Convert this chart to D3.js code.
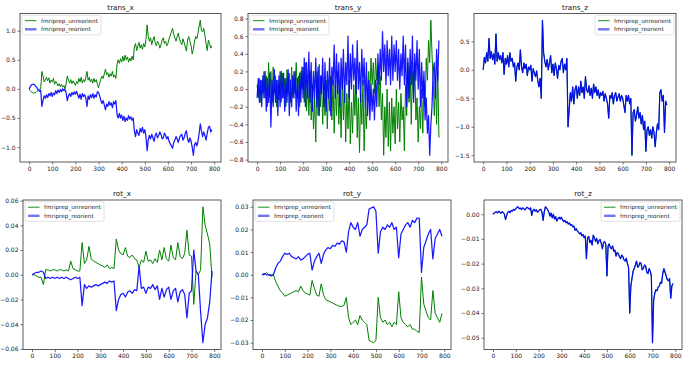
<!DOCTYPE html>
<html>
<head>
<meta charset="utf-8">
<script src="https://cdn.jsdelivr.net/npm/d3@7"></script>
<style>
  body { margin: 0; background: #fff; }
  svg { display: block; font-family: "DejaVu Sans", sans-serif; }
</style>
</head>
<body>
<div id="chart"></div>
<script>
"use strict";
// frame index: noisy series read every 5 frames, smoother ones every 10
const frames5 = d3.range(0, 795, 5);
const frames10 = d3.range(0, 800, 10);
const xTicks = [0, 100, 200, 300, 400, 500, 600, 700, 800];
const seriesNames = ["fmriprep_unreorient", "fmriprep_reorient"];

const trans_x_unreorient = [
  0, -0.03, -0.05, -0.07, -0.07, -0.07, -0.06, -0.04, -0.02, 0,
  0, 0.3, 0.22, 0.12, 0.15, 0.2, 0.14, 0.19, 0.1, 0.15,
  0.12, 0.18, 0.08, 0.13, 0.1, 0.05, 0.09, 0.04, 0.08, 0.03,
  0.06, 0, 0.1, 0.22, 0.15, 0.1, 0.16, 0.09, 0.14, 0.1,
  0.06, 0.13, 0.09, 0.18, 0.12, 0.2, 0.1, 0.16, 0.12, 0.2,
  0.3, 0.15, 0.2, 0.12, 0.17, 0.1, 0.18, 0.12, 0.16, 0.08,
  0.02, 0.1, 0.17, 0.22, 0.18, 0.26, 0.34, 0.24, 0.28, 0.2,
  0.26, 0.22, 0.3, 0.2, 0.24, 0.18, 0.42, 0.5, 0.44, 0.52,
  0.46, 0.56, 0.48, 0.58, 0.5, 0.55, 0.46, 0.53, 0.48, 0.56,
  0.5, 0.72, 0.78, 0.66, 0.74, 0.8, 0.7, 0.76, 0.68, 0.78,
  0.72, 0.85, 1.1, 0.9, 0.82, 0.88, 0.76, 0.84, 0.9, 0.8,
  0.74, 0.82, 0.78, 0.7, 0.76, 0.84, 0.88, 0.78, 0.82, 0.74,
  0.78, 0.86, 0.92, 0.98, 1.04, 0.94, 0.88, 0.82, 0.9, 0.96,
  0.86, 0.8, 0.76, 0.86, 0.8, 0.72, 0.65, 0.84, 0.9, 0.82,
  0.75, 0.6, 0.68, 0.82, 0.9, 0.86, 0.96, 1.08, 1.18, 1.0,
  0.98, 1.04, 0.92, 0.78, 0.66, 0.84, 0.78, 0.7, 0.74];
const trans_x_reorient = [
  0, 0.04, 0.07, 0.08, 0.08, 0.06, 0.04, 0.01, -0.02, -0.04,
  -0.02, -0.3, -0.2, -0.12, -0.16, -0.1, -0.15, -0.08, -0.12, -0.06,
  -0.13, -0.07, -0.1, -0.03, -0.08, -0.02, -0.06, -0.01, -0.05, 0,
  -0.03, -0.01, -0.07, -0.2, -0.12, -0.08, -0.13, -0.06, -0.1, -0.05,
  -0.09, -0.04, -0.1, -0.16, -0.09, -0.18, -0.08, -0.13, -0.1, -0.16,
  -0.3, -0.12, -0.18, -0.1, -0.15, -0.08, -0.16, -0.1, -0.14, -0.05,
  -0.06, -0.12, -0.2, -0.25, -0.2, -0.28, -0.36, -0.26, -0.3, -0.22,
  -0.28, -0.24, -0.32, -0.22, -0.26, -0.2, -0.44, -0.5, -0.42, -0.5,
  -0.45, -0.54, -0.47, -0.56, -0.5, -0.54, -0.46, -0.52, -0.48, -0.54,
  -0.5, -0.72, -0.82, -0.7, -0.76, -0.8, -0.68, -0.74, -0.66, -0.76,
  -0.7, -0.82, -1.06, -0.88, -0.8, -0.86, -0.78, -0.84, -0.9, -0.8,
  -0.76, -0.84, -0.8, -0.74, -0.78, -0.86, -0.84, -0.76, -0.8, -0.86,
  -0.82, -0.9, -0.94, -0.98, -1.02, -0.92, -0.88, -0.82, -0.86, -0.92,
  -0.84, -0.8, -0.78, -0.88, -0.84, -0.76, -0.72, -0.86, -0.92, -0.84,
  -0.9, -1.0, -1.14, -0.96, -0.92, -0.98, -0.9, -0.76, -0.6, -0.72,
  -0.82, -0.74, -0.8, -0.88, -0.76, -0.66, -0.64, -0.74, -0.7];

const trans_y_unreorient = [
  0.05, -0.1, 0.12, -0.15, 0.1, -0.05, 0.2, -0.1, 0.15, -0.2,
  0.3, -0.1, 0.2, -0.15, 0.25, -0.05, 0.15, -0.2, 0.1, -0.12,
  0.2, -0.15, 0.18, -0.1, 0.12, -0.2, 0.22, -0.05, 0.18, -0.15,
  0.25, -0.1, 0.2, -0.05, 0.3, -0.1, 0.15, -0.2, 0.2, 0,
  0.25, -0.15, 0.3, -0.25, 0.1, -0.3, 0.2, -0.35, 0.05, -0.45,
  -0.1, -0.6, 0.2, -0.3, 0.28, -0.2, 0.15, -0.4, 0.05, -0.3,
  0.1, -0.45, 0, -0.25, 0.15, -0.35, 0.1, -0.5, 0.05, -0.3,
  0.2, -0.4, 0, -0.55, 0.1, -0.35, 0.05, -0.6, -0.05, -0.45,
  0.1, -0.62, -0.15, -0.5, 0.05, -0.3, 0.15, -0.55, -0.1, -0.72,
  -0.05, -0.4, 0.1, -0.7, -0.2, -0.45, 0, 0.2, -0.1, 0.35,
  0.05, 0.3, -0.05, 0.35, 0.1, 0.25, -0.2, 0.15, -0.35, -0.05,
  -0.75, -0.2, -0.55, 0, -0.65, -0.15, -0.7, -0.1, -0.5, -0.2,
  -0.62, 0, -0.45, -0.15, -0.6, -0.05, -0.35, -0.2, -0.7, 0.05,
  -0.3, 0.3, -0.15, 0.25, -0.4, 0.2, -0.1, 0.3, -0.35, -0.1,
  -0.6, -0.2, -0.45, 0, -0.5, 0.1, -0.2, 0.35, 0.1, 0.55,
  0.3, 0.78, 0.4, 0.1, -0.3, 0.15, -0.4, 0.2, -0.55];
const trans_y_reorient = [
  -0.1, 0.12, -0.15, 0.1, -0.2, 0.15, -0.1, 0.2, -0.25, 0.12,
  -0.15, 0.18, -0.43, 0.1, -0.2, 0.22, -0.15, 0.1, -0.3, 0.15,
  -0.2, 0.2, -0.1, 0.18, -0.25, 0.12, -0.15, 0.22, -0.3, 0.1,
  -0.2, 0.15, -0.1, 0.2, -0.25, 0.12, -0.3, 0.18, -0.15, 0.25,
  -0.1, 0.35, -0.2, 0.3, -0.1, 0.42, -0.15, 0.3, -0.25, 0.2,
  -0.1, 0.35, -0.2, 0.25, -0.3, 0.15, -0.05, 0.35, -0.2, 0.3,
  -0.25, 0.2, -0.1, 0.35, -0.3, 0.25, 0.05, 0.5, -0.1, 0.4,
  -0.05, 0.3, -0.2, 0.35, 0, 0.45, -0.15, 0.3, 0.05, 0.6,
  -0.1, 0.4, 0, 0.5, 0.1, 0.35, -0.05, 0.55, 0, 0.3,
  -0.15, 0.45, 0.05, 0.35, -0.2, 0.3, -0.3, 0.1, -0.35, 0.05,
  -0.25, 0, -0.35, 0.1, -0.2, 0.4, 0.05, 0.45, 0.1, 0.65,
  0.2, 0.5, 0.05, 0.55, 0.15, 0.45, 0.05, 0.6, 0.1, 0.5,
  0.2, 0.55, 0.1, 0.45, 0, 0.4, 0.15, 0.6, 0.05, 0.5,
  -0.2, 0.35, -0.1, 0.45, 0.05, 0.6, -0.15, 0.4, 0.1, 0.55,
  0, 0.45, -0.2, 0.3, -0.1, 0.2, -0.35, -0.1, -0.5, -0.3,
  -0.75, -0.4, -0.2, 0.2, 0.3, -0.1, 0.45, 0.1, 0.55];

// both runs give the same trans_z and rot_z
const trans_z_both = [
  0, 0.22, 0.12, 0.3, 0.15, 0.55, 0.2, 0.32, 0.18, 0.28,
  0.1, 0.63, 0.15, 0.3, 0.18, 0.25, 0.12, 0.3, -0.08, 0.2,
  0.1, 0.25, 0.05, 0.3, 0.15, 0.2, 0.05, 0.12, -0.2, 0.05,
  0.12, 0, 0.35, 0.05, -0.05, 0.12, 0.02, 0.1, -0.1, 0.05,
  0, 0.08, -0.2, 0.02, -0.05, -0.12, -0.02, -0.2, -0.3, -0.15,
  -0.5, 0.87, 0.3, 0.15, 0.05, 0.18, 0, 0.12, 0.25, -0.05,
  0.1, -0.1, 0.12, 0.02, -0.15, 0.08, 0, 0.15, 0.2, -0.05,
  0.1, 0, 0.2, -1.0, -0.7, -0.4, -0.55, -0.3, -0.6, -0.35,
  -0.28, -0.5, -0.3, -0.45, -0.2, -0.4, -0.3, -0.5, -0.12, -0.35,
  -0.4, -0.28, -0.45, -0.32, -0.5, -0.25, -0.4, -0.3, -0.45, -0.35,
  -0.5, -0.4, -0.45, -0.38, -0.55, -0.42, -0.5, -0.6, -0.85, -0.45,
  -0.5, -0.4, -0.6, -0.45, -0.4, -0.55, -0.48, -0.42, -0.55, -0.45,
  -0.5, -0.62, -0.75, -0.45, -0.55, -0.45, -0.6, -0.5, -1.5, -0.75,
  -0.7, -0.9, -0.8, -0.65, -0.85, -0.75, -0.95, -0.8, -1.05, -0.9,
  -1.43, -1.05, -1.0, -1.15, -1.05, -1.2, -1.0, -1.1, -1.35, -1.1,
  -0.95, -1.05, -0.4, -0.35, -0.55, -0.45, -1.1, -0.55, -0.62];

const rot_x_unreorient = [0, 0, -0.001, -0.002, -0.002, -0.008, 0.004, 0.004, 0.003, 0.004, 0.004, 0.003, 0.004, 0.004,
  0.003, 0.004, 0.003, 0.011, 0.005, 0.004, 0.003, 0.003, 0.026, 0.009, 0.012, 0.023, 0.013, 0.011, 0.01, 0.009, 0.008,
  0.007, 0.006, 0.008, 0.005, 0.006, 0.005, 0.029, 0.02, 0.017, 0.016, 0.022, 0.015, 0.014, 0.016, 0.013, 0.012, 0.006,
  0.012, 0.01, 0.019, 0.011, 0.012, 0.009, 0.013, 0.01, 0.02, 0.012, 0.022, 0.013, 0.011, 0.024, 0.014, 0.012, 0.026,
  0.015, 0.013, 0.017, 0.036, 0.016, 0.015, -0.024, 0.003, 0, 0.004, 0.055, 0.04, 0.033, 0.025, -0.002];
const rot_x_reorient = [0, 0.001, 0.002, 0.002, 0.003, 0.002, -0.003, -0.002, -0.003, -0.002, -0.003, -0.002, -0.003,
  -0.002, -0.003, -0.002, -0.003, -0.004, -0.003, -0.002, -0.003, -0.002, -0.025, -0.008, -0.011, -0.009, -0.01, -0.009,
  -0.008, -0.009, -0.008, -0.007, -0.006, -0.007, -0.005, -0.006, -0.005, -0.029, -0.02, -0.016, -0.015, -0.018, -0.014,
  -0.013, -0.015, -0.012, -0.013, 0.007, -0.011, -0.01, -0.015, -0.01, -0.011, -0.008, -0.012, -0.009, -0.02, -0.011,
  -0.018, -0.012, -0.01, -0.02, -0.013, -0.011, -0.022, -0.014, -0.012, -0.016, -0.035, -0.015, -0.013, 0.02, 0.003, 0,
  -0.03, -0.055, -0.04, -0.035, -0.022, 0.003];

const rot_y_unreorient = [0, 0, 0.001, 0, 0, 0, -0.003, -0.005, -0.007, -0.008, -0.0095, -0.009, -0.0085, -0.008, -0.0075,
  -0.007, -0.0075, -0.005, -0.007, -0.008, -0.0085, -0.009, -0.0025, -0.006, -0.009, -0.0095, -0.004, -0.009, -0.011,
  -0.0115, -0.012, -0.0125, -0.013, -0.0135, -0.014, -0.014, -0.0135, -0.01, -0.019, -0.022, -0.021, -0.02, -0.022,
  -0.018, -0.02, -0.021, -0.022, -0.029, -0.0295, -0.03, -0.029, -0.01, -0.019, -0.021, -0.02, -0.022, -0.021, -0.023,
  -0.021, -0.022, -0.0075, -0.019, -0.021, -0.022, -0.023, -0.022, -0.024, -0.024, -0.025, -0.0255, -0.001, -0.013,
  -0.016, -0.019, -0.02, -0.007, -0.017, -0.019, -0.021, -0.017];
const rot_y_reorient = [0, 0.0005, 0, 0, -0.0005, 0, 0.003, 0.005, 0.006, 0.008, 0.0095, 0.009, 0.0095, 0.008, 0.0075,
  0.007, 0.008, 0.0065, 0.007, 0.008, 0.009, 0.0095, 0.002, 0.006, 0.008, 0.0095, 0.005, 0.009, 0.011, 0.012, 0.0115,
  0.013, 0.0125, 0.014, 0.0135, 0.015, 0.0145, 0.01, 0.019, 0.023, 0.021, 0.02, 0.023, 0.017, 0.02, 0.021, 0.022,
  0.029, 0.0295, 0.03, 0.028, 0.0095, 0.019, 0.021, 0.02, 0.022, 0.021, 0.023, 0.02, 0.021, 0.0075, 0.018, 0.02, 0.022,
  0.023, 0.021, 0.024, 0.023, 0.025, 0.025, 0.001, 0.012, 0.015, 0.018, 0.02, 0.007, 0.016, 0.018, 0.02, 0.017];

const rot_z_both = [
  0, 0.0005, 0.0008, 0.001, 0.0005, 0.0012, 0.0008, 0.0004, 0.001, 0.0006,
  0, -0.0022, -0.0005, 0.0008, 0.0012, 0.0006, 0.0015, 0.0012, 0.002, 0.0016,
  0.0022, 0.0028, 0.003, 0.0022, 0.0025, 0.0018, 0.0026, 0.0022, 0.0018, 0.0024,
  0.0028, 0.0024, 0.002, 0.0026, -0.0005, 0.0015, 0.002, 0.0012, 0.0018, 0.0008,
  0.0012, 0.0018, 0.002, 0.0008, -0.0025, 0.001, 0.003, 0.0025, 0.0018, 0.0008,
  -0.0008, 0.0005, -0.0015, 0, -0.002, -0.001, -0.0028, -0.0018, -0.0012, -0.002,
  -0.0012, -0.0022, -0.003, -0.0025, -0.0035, -0.003, -0.004, -0.0035, -0.0045, -0.0042,
  -0.005, -0.0048, -0.0065, -0.0058, -0.0068, -0.0072, -0.008, -0.0075, -0.0088, -0.0082,
  -0.0095, -0.0088, -0.018, -0.0095, -0.009, -0.0115, -0.0105, -0.0125, -0.0085, -0.0095,
  -0.011, -0.0098, -0.012, -0.0108, -0.0102, -0.0118, -0.014, -0.0115, -0.011, -0.0122,
  -0.025, -0.013, -0.012, -0.0135, -0.014, -0.0128, -0.015, -0.0145, -0.017, -0.0155,
  -0.016, -0.0172, -0.018, -0.0165, -0.0172, -0.0185, -0.019, -0.0178, -0.02, -0.0215,
  -0.04, -0.029, -0.026, -0.023, -0.022, -0.0205, -0.019, -0.0215, -0.021, -0.0195,
  -0.02, -0.0225, -0.022, -0.0205, -0.021, -0.0235, -0.024, -0.022, -0.023, -0.025,
  -0.052, -0.035, -0.032, -0.0305, -0.031, -0.0295, -0.029, -0.0275, -0.028, -0.024,
  -0.022, -0.0235, -0.025, -0.0265, -0.027, -0.026, -0.034, -0.029, -0.028];

const trans_x_ticks = [-1.0, -0.5, 0.0, 0.5, 1.0];
const trans_y_ticks = [-0.8, -0.6, -0.4, -0.2, 0.0, 0.2, 0.4, 0.6, 0.8];
const trans_z_ticks = [-1.5, -1.0, -0.5, 0.0, 0.5];
const rot_x_ticks = [-0.06, -0.04, -0.02, 0.00, 0.02, 0.04, 0.06];
const rot_y_ticks = [-0.03, -0.02, -0.01, 0.00, 0.01, 0.02, 0.03];
const rot_z_ticks = [-0.05, -0.04, -0.03, -0.02, -0.01, 0.00];

const width = 690, height = 366;
const green = "#008000", blue = "#0000ff";

const panels = [
  {title: "trans_x", t: frames5, a: trans_x_unreorient, b: trans_x_reorient, ticks: trans_x_ticks, fmt: ".1f",
   box: [20, 13.5, 221, 162], legend: "left"},
  {title: "trans_y", t: frames5, a: trans_y_unreorient, b: trans_y_reorient, ticks: trans_y_ticks, fmt: ".1f",
   box: [248, 13.5, 448, 162], legend: "left"},
  {title: "trans_z", t: frames5, a: trans_z_both, b: trans_z_both, ticks: trans_z_ticks, fmt: ".1f",
   box: [474, 13.5, 676, 162], legend: "right"},
  {title: "rot_x", t: frames10, a: rot_x_unreorient, b: rot_x_reorient, ticks: rot_x_ticks, fmt: ".2f",
   box: [23, 200, 221, 349.5], legend: "left"},
  {title: "rot_y", t: frames10, a: rot_y_unreorient, b: rot_y_reorient, ticks: rot_y_ticks, fmt: ".2f",
   box: [253, 200, 451, 349.5], legend: "left"},
  {title: "rot_z", t: frames5, a: rot_z_both, b: rot_z_both, ticks: rot_z_ticks, fmt: ".2f",
   box: [484, 200, 682, 349.5], legend: "right"}
];

const svg = d3.select("#chart").append("svg")
    .attr("width", width)
    .attr("height", height)
    .attr("viewBox", [0, 0, width, height]);

function drawPanel(p) {
  const [x0, y0, x1, y1] = p.box;
  const [lo, hi] = d3.extent(p.a.concat(p.b));
  const pad = (hi - lo) * 0.05;
  // matplotlib-style 5% margins on the frame range 0..790
  const tMax = 790, xPad = tMax * 0.05;

  const x = d3.scaleLinear()
      .domain([-xPad, tMax + xPad])
      .range([x0, x1]);
  const y = d3.scaleLinear()
      .domain([lo - pad, hi + pad])
      .range([y1, y0]);

  const g = svg.append("g");

  const clipId = "clip-" + p.title;
  g.append("clipPath").attr("id", clipId)
    .append("rect").attr("x", x0).attr("y", y0).attr("width", x1 - x0).attr("height", y1 - y0);

  const line = d3.line()
      .x((d, i) => x(p.t[i]))
      .y(d => y(d));

  const lines = g.append("g").attr("clip-path", `url(#${clipId})`).attr("fill", "none")
      .attr("stroke-linejoin", "round");
  lines.append("path")
      .attr("d", line(p.a))
      .attr("stroke", green)
      .attr("stroke-width", 1);
  lines.append("path")
      .attr("d", line(p.b))
      .attr("stroke", blue)
      .attr("stroke-opacity", 0.9)
      .attr("stroke-width", 1.25);

  // axes
  const xAxis = g.append("g")
      .attr("transform", `translate(0,${y1})`)
      .call(d3.axisBottom(x).tickValues(xTicks).tickSize(2.5).tickPadding(2));
  const yAxis = g.append("g")
      .attr("transform", `translate(${x0},0)`)
      .call(d3.axisLeft(y).tickValues(p.ticks).tickFormat(d3.format(p.fmt)).tickSize(2.5).tickPadding(2));
  [xAxis, yAxis].forEach(ax => {
    ax.attr("font-size", 6).attr("font-family", null).style("color", "#222");
    ax.select(".domain").remove();
    ax.selectAll(".tick line").attr("stroke-width", 0.6);
  });

  g.append("rect")
      .attr("x", x0).attr("y", y0)
      .attr("width", x1 - x0).attr("height", y1 - y0)
      .attr("fill", "none")
      .attr("stroke", "#333")
      .attr("stroke-width", 0.8);

  g.append("text")
      .attr("x", (x0 + x1) / 2)
      .attr("y", y0 - 4)
      .attr("text-anchor", "middle")
      .attr("font-size", 7.2)
      .attr("fill", "#111")
      .text(p.title);

  // legend
  const legW = 79, legH = 19.5;
  const lx = p.legend === "left" ? x0 + 2 : x1 - 2 - legW;
  const ly = y0 + 1.8;
  const leg = g.append("g").attr("transform", `translate(${lx},${ly})`);
  leg.append("rect")
      .attr("width", legW).attr("height", legH)
      .attr("rx", 1.5)
      .attr("fill", "#fff").attr("fill-opacity", 0.8)
      .attr("stroke", "#cccccc").attr("stroke-width", 0.6);
  const handles = [
    {color: green, w: 0.9, op: 1},
    {color: "#5050e8", w: 2.4, op: 0.8}
  ];
  seriesNames.forEach((name, i) => {
    const cy = 5.4 + i * 8.6;
    leg.append("line")
        .attr("x1", 3).attr("x2", 14.5)
        .attr("y1", cy).attr("y2", cy)
        .attr("stroke", handles[i].color)
        .attr("stroke-opacity", handles[i].op)
        .attr("stroke-width", handles[i].w);
    leg.append("text")
        .attr("x", 19)
        .attr("y", cy)
        .attr("dy", "0.35em")
        .attr("font-size", 5.7)
        .attr("fill", "#222")
        .text(name);
  });
}

panels.forEach(drawPanel);
</script>
</body>
</html>
